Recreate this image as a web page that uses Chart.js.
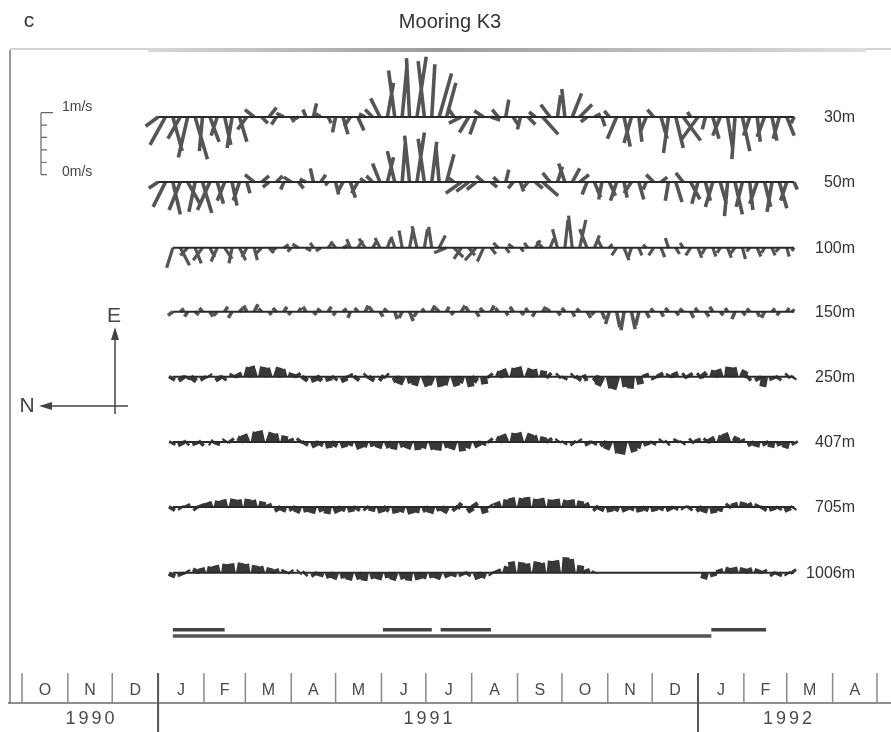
<!DOCTYPE html>
<html lang="en">
<head>
<meta charset="UTF-8">
<title>Mooring K3</title>
<script src="https://cdn.jsdelivr.net/npm/chart.js"></script>
<style>
    body { margin: 0; background: #fff; }
    #wrap { width: 891px; height: 732px; position: relative; }
</style>
</head>
<body>
<div id="wrap"><canvas id="sticks"></canvas></div>
<script>
// time in days since 1 Jan 1991, one current vector every 5 days
// east = up on the plot, north = to the left (m/s)
const stepDays = 5;
const depths = ['30m', '50m', '100m', '150m', '250m', '407m', '705m', '1006m'];
const firstDay = [0, 0, 10, 10, 10, 10, 10, 10];

const east30 = [
    -0.15,-0.45,-0.55,-0.35,-0.65,-0.68,-0.55,-0.40,-0.30,-0.45,
    -0.50,-0.40,-0.20,0.12,-0.10,0.15,-0.12,0.06,-0.08,-0.05,
    0.12,0.22,0.05,-0.10,-0.25,-0.28,-0.15,-0.22,0.05,0.12,
    0.30,0.55,0.75,0.85,0.95,0.97,0.90,0.85,0.70,0.55,
    0.15,-0.10,-0.25,-0.28,0.10,-0.05,0.12,0.28,-0.15,-0.20,
    -0.12,0.08,-0.28,0.20,0.35,0.45,0.38,0.20,-0.08,0.05,
    -0.15,0.10,-0.35,-0.48,-0.42,-0.40,-0.25,0.12,-0.35,-0.58,
    -0.50,-0.38,0.08,-0.38,-0.20,-0.35,-0.30,-0.50,-0.68,-0.55,
    -0.30,-0.40,-0.32,-0.38,-0.35,-0.30,-0.10];
const north30 = [
    0.20,0.25,-0.15,0.20,0.15,-0.20,0.05,-0.15,0.10,-0.10,
    0.08,-0.12,0.15,0.15,-0.10,-0.12,0.08,0.12,-0.05,0.10,
    0.05,-0.05,0.08,-0.05,0.05,-0.08,0.10,-0.10,0.10,0.12,
    0.15,-0.10,0.10,-0.08,0.05,-0.15,0.10,-0.05,-0.20,-0.15,
    0.10,0.20,0.15,0.10,0.15,-0.15,0.10,-0.05,-0.10,0.05,
    -0.12,0.10,-0.25,0.15,-0.05,0.05,-0.15,-0.20,0.10,-0.10,
    -0.05,0.08,0.15,-0.10,0.12,-0.05,0.10,0.10,-0.10,0.08,
    -0.12,-0.28,0.05,0.28,0.05,-0.10,0.12,-0.08,0.05,-0.12,
    0.10,-0.05,0.12,-0.08,0.10,-0.12,0.05];

const east50 = [
    -0.10,-0.40,-0.52,-0.45,-0.35,-0.48,-0.50,-0.45,-0.35,-0.30,
    -0.38,-0.30,-0.18,0.12,0.10,-0.08,0.10,-0.12,0.08,-0.10,
    0.05,0.22,0.12,-0.05,-0.20,-0.15,-0.25,-0.18,0.06,0.10,
    0.30,0.40,0.50,0.62,0.75,0.80,0.70,0.65,0.55,0.45,
    0.08,-0.18,-0.15,-0.12,0.10,-0.08,0.08,0.20,-0.10,-0.15,
    -0.12,-0.10,-0.22,0.15,0.25,0.30,0.22,0.12,-0.20,-0.25,
    -0.28,-0.22,-0.30,-0.25,-0.18,-0.28,-0.12,0.12,0.08,-0.30,
    -0.32,0.15,-0.28,-0.35,-0.30,-0.40,-0.35,-0.55,-0.52,-0.40,
    -0.45,-0.35,-0.40,-0.48,-0.42,-0.30,-0.12];
const north50 = [
    0.15,0.20,-0.12,0.18,-0.20,0.10,-0.15,0.20,-0.10,0.12,
    -0.08,0.10,-0.05,0.15,-0.12,0.10,-0.10,0.05,0.12,-0.08,
    0.10,0.05,-0.08,0.05,-0.05,0.08,-0.08,0.10,0.08,0.10,
    0.12,-0.10,0.12,-0.05,0.08,-0.12,0.10,-0.08,0.05,-0.12,
    0.10,0.25,0.20,0.15,0.12,-0.10,0.08,-0.05,0.08,-0.05,
    0.10,-0.12,-0.25,0.12,-0.08,0.10,-0.12,-0.15,0.08,-0.10,
    0.05,-0.10,0.10,-0.05,0.12,-0.08,0.05,0.12,-0.10,0.05,
    -0.10,0.12,-0.15,0.10,-0.08,0.12,-0.10,0.05,-0.12,0.10,
    -0.05,0.12,-0.10,0.08,-0.12,0.10,-0.05];

const east100 = [
    -0.32,-0.28,-0.12,-0.25,-0.20,-0.15,-0.22,-0.18,-0.25,-0.20,
    -0.15,-0.20,-0.10,-0.08,-0.06,0.05,-0.06,0.06,-0.05,0.08,
    -0.05,0.08,0.10,0.06,0.14,0.12,0.15,0.10,0.16,0.14,
    0.18,0.28,0.32,0.35,0.30,0.34,0.20,-0.08,-0.15,-0.18,
    -0.12,-0.20,-0.22,-0.10,0.08,-0.08,0.06,-0.06,0.08,0.12,
    0.10,0.15,0.30,0.45,0.52,0.45,0.30,0.20,0.12,0.06,
    -0.12,-0.20,-0.18,-0.12,0.05,-0.12,-0.15,0.16,-0.10,0.08,
    -0.12,-0.16,-0.10,-0.14,-0.08,-0.16,-0.10,-0.18,-0.06,-0.14,
    -0.08,-0.12,-0.06,-0.14,-0.05];
const north100 = [
    0.10,-0.15,0.12,-0.10,0.15,-0.08,0.10,-0.12,0.05,-0.10,
    0.08,-0.05,0.10,-0.08,0.10,-0.08,0.06,0.10,-0.08,0.05,
    0.08,-0.06,0.08,-0.10,0.06,-0.08,0.10,-0.06,0.08,-0.05,
    0.06,0.05,-0.06,0.08,-0.05,0.05,-0.10,0.20,-0.15,0.12,
    -0.10,0.18,0.10,-0.08,0.08,-0.06,0.08,-0.05,0.06,-0.08,
    0.10,-0.06,0.08,-0.05,0.06,-0.10,0.12,-0.08,0.06,-0.05,
    0.08,-0.08,0.06,-0.05,0.05,0.08,-0.06,0.05,-0.06,0.05,
    0.08,-0.06,0.06,-0.05,0.05,-0.06,0.08,-0.05,0.05,-0.06,
    0.05,-0.05,0.06,-0.04,0.04];

const east150 = [
    -0.06,0.05,-0.08,-0.05,0.06,-0.08,-0.06,0.08,-0.10,0.06,
    0.10,0.12,0.05,-0.05,0.06,0.08,-0.05,0.06,0.08,-0.05,
    0.05,0.08,-0.06,0.05,-0.10,0.06,0.10,0.08,-0.08,0.05,
    -0.12,-0.10,-0.15,-0.08,0.05,0.10,0.06,0.08,-0.05,0.10,
    0.08,-0.08,0.06,0.10,0.06,-0.06,0.08,-0.05,0.06,-0.08,
    0.08,0.05,-0.06,0.06,-0.08,0.05,-0.10,-0.05,-0.12,-0.20,
    -0.25,-0.30,-0.28,-0.22,-0.10,0.05,-0.08,0.06,-0.06,0.05,
    -0.10,0.06,-0.08,0.08,-0.06,0.06,-0.12,-0.06,0.05,-0.08,
    -0.10,0.05,-0.06,0.06,0.04];
const north150 = [
    0.08,-0.06,0.05,-0.06,0.05,-0.05,0.06,-0.05,0.06,-0.06,
    0.05,-0.06,0.05,-0.04,0.06,-0.05,0.05,-0.04,0.05,-0.05,
    0.06,-0.05,0.04,-0.06,0.04,0.05,-0.05,0.06,-0.05,0.06,
    -0.04,0.05,-0.06,0.05,0.04,-0.05,0.06,-0.04,0.05,-0.06,
    0.05,-0.05,0.06,-0.05,0.05,-0.04,0.05,-0.06,0.04,0.05,
    -0.05,0.06,-0.05,0.05,-0.04,0.05,-0.06,0.05,-0.05,0.06,
    -0.05,0.05,-0.06,0.05,-0.05,0.05,-0.04,0.05,-0.05,0.06,
    -0.05,0.05,-0.06,0.05,-0.05,0.04,0.05,-0.05,0.05,-0.04,
    0.05,-0.05,0.04,-0.04,0.03];

const east250 = [
    -0.05,-0.06,-0.03,-0.07,-0.05,0.03,-0.06,-0.04,0.04,0.06,
    0.15,0.17,0.16,0.14,0.15,0.12,0.06,0.05,-0.06,-0.08,
    -0.05,-0.07,-0.04,-0.08,0.04,-0.05,0.03,-0.06,-0.04,0.03,
    -0.08,-0.12,-0.10,-0.14,-0.15,-0.12,-0.16,-0.13,-0.15,-0.10,
    -0.16,-0.08,-0.12,0.04,0.08,0.12,0.14,0.16,0.13,0.12,
    0.10,0.04,0.03,-0.04,0.03,-0.05,-0.03,-0.06,-0.14,-0.18,
    -0.20,-0.16,-0.19,-0.12,0.05,-0.04,0.06,0.04,0.07,0.03,
    0.05,0.03,0.06,0.10,0.12,0.16,0.15,0.10,-0.04,-0.06,
    -0.16,-0.05,-0.04,0.03,-0.03];
const north250 = [
    0.03,-0.04,0.02,0.05,-0.03,0.02,-0.04,0.03,-0.02,0.03,
    -0.04,0.05,-0.03,0.04,-0.05,0.03,-0.02,0.03,0.04,-0.03,
    0.05,-0.02,0.03,-0.04,0.02,0.04,-0.03,0.04,-0.05,0.03,
    -0.04,0.05,-0.03,0.04,-0.06,0.05,-0.03,0.04,-0.05,0.03,
    -0.04,0.05,-0.02,0.03,-0.04,0.05,-0.03,0.04,-0.05,0.03,
    -0.02,0.04,-0.03,0.02,-0.03,0.04,0.06,-0.05,0.07,-0.04,
    0.06,-0.03,0.02,-0.03,0.02,-0.02,0.03,-0.02,0.03,-0.04,
    0.03,-0.04,0.05,-0.03,0.04,-0.02,0.03,-0.05,0.04,-0.03,
    0.03,-0.02,0.03,-0.03,0.02];

const east407 = [
    -0.04,-0.06,-0.03,-0.05,-0.04,-0.02,-0.05,0.03,0.04,0.08,
    0.12,0.16,0.18,0.15,0.13,0.10,0.05,0.04,-0.05,-0.08,
    -0.06,-0.10,-0.07,-0.09,-0.06,-0.11,-0.08,-0.07,-0.10,-0.09,
    -0.12,-0.08,-0.11,-0.13,-0.10,-0.12,-0.14,-0.09,-0.12,-0.15,
    -0.10,-0.08,-0.05,0.04,0.08,0.12,0.14,0.15,0.13,0.10,
    0.08,0.05,0.03,-0.03,-0.04,0.03,-0.05,-0.04,-0.06,-0.12,
    -0.18,-0.20,-0.16,-0.10,-0.06,-0.04,0.03,-0.03,0.04,-0.03,
    0.03,0.05,0.04,0.07,0.10,0.14,0.08,0.04,-0.06,-0.08,
    -0.05,-0.09,-0.06,-0.10,-0.04];
const north407 = [
    0.02,-0.03,0.03,-0.02,0.04,-0.03,0.02,-0.02,0.03,-0.04,
    0.05,-0.03,0.04,-0.05,0.03,-0.02,0.02,-0.03,0.03,-0.04,
    0.03,-0.02,0.04,-0.03,0.02,-0.04,0.03,-0.02,0.03,-0.04,
    0.02,-0.03,0.04,-0.02,0.03,-0.04,0.02,-0.03,0.04,-0.02,
    0.03,-0.04,0.02,0.03,-0.04,0.05,-0.03,0.04,-0.05,0.03,
    -0.02,0.03,-0.02,0.02,-0.03,0.02,-0.03,0.02,-0.04,0.05,
    -0.03,0.04,-0.05,0.03,-0.02,0.02,-0.02,0.03,-0.02,0.02,
    -0.03,0.02,-0.03,0.04,-0.03,0.05,-0.04,0.02,-0.03,0.02,
    -0.03,0.02,-0.02,0.03,-0.02];

const east705 = [
    -0.05,-0.03,0.04,-0.04,0.05,0.08,0.10,0.12,0.13,0.12,
    0.13,0.11,0.09,0.05,-0.06,-0.07,-0.05,-0.09,-0.08,-0.10,
    -0.07,-0.11,-0.09,-0.06,-0.08,-0.05,-0.04,-0.07,-0.09,-0.06,
    -0.10,-0.08,-0.11,-0.09,-0.07,-0.10,-0.06,-0.09,-0.05,0.04,
    -0.08,0.06,-0.10,0.03,0.08,0.12,0.15,0.14,0.16,0.13,
    0.14,0.12,0.13,0.11,0.12,0.10,0.06,-0.04,-0.06,-0.08,
    -0.06,-0.07,-0.05,-0.08,-0.06,-0.07,-0.05,-0.06,-0.04,-0.03,
    -0.04,-0.06,-0.09,-0.10,-0.07,0.04,0.07,0.08,0.06,0.04,
    -0.05,-0.06,-0.04,-0.07,-0.03];
const north705 = [
    0.03,-0.02,0.02,-0.03,0.02,0.03,-0.02,0.03,-0.03,0.02,
    -0.02,0.03,-0.02,0.02,-0.04,0.03,-0.03,0.04,-0.02,0.03,
    -0.03,0.02,-0.04,0.03,-0.02,0.03,-0.03,0.02,-0.03,0.04,
    -0.02,0.03,-0.03,0.02,-0.04,0.03,-0.02,0.05,-0.04,0.06,
    -0.05,0.04,-0.03,0.02,0.03,-0.02,0.03,-0.03,0.02,-0.02,
    0.03,-0.02,0.02,-0.03,0.02,-0.02,0.03,-0.04,0.03,-0.02,
    0.03,-0.03,0.02,-0.02,0.03,-0.02,0.02,-0.03,0.02,-0.02,
    0.03,-0.04,0.03,-0.02,0.02,-0.03,0.02,-0.02,0.03,-0.02,
    0.03,-0.02,0.02,-0.03,0.02];

const east1006 = [
    -0.07,-0.05,0.03,0.06,0.08,0.10,0.12,0.14,0.15,0.16,
    0.14,0.12,0.10,0.08,0.06,0.04,0.03,0.02,-0.03,-0.05,
    -0.06,-0.08,-0.10,-0.09,-0.12,-0.10,-0.13,-0.09,-0.11,-0.08,
    -0.12,-0.10,-0.13,-0.11,-0.09,-0.08,-0.10,-0.07,-0.06,-0.05,
    -0.04,-0.10,-0.08,-0.03,0.05,0.10,0.18,0.17,0.15,0.18,
    0.16,0.19,0.20,0.25,0.22,0.12,0.06,0.02,0,0,
    0,0,0,0,0,0,0,0,0,0,
    0,0,-0.10,-0.06,0.06,0.08,0.09,0.08,0.07,0.06,
    0.04,-0.04,-0.05,-0.03,0.04];
const north1006 = [
    0.03,-0.02,0.02,-0.03,0.02,-0.02,0.03,-0.02,0.02,-0.03,
    0.02,-0.02,0.03,-0.02,0.02,-0.02,0.02,-0.02,0.03,-0.03,
    0.02,-0.03,0.04,-0.02,0.03,-0.04,0.02,-0.03,0.03,-0.02,
    0.04,-0.03,0.02,-0.03,0.03,-0.02,0.04,-0.03,0.02,-0.02,
    0.03,-0.04,0.03,-0.02,0.02,-0.03,0.03,-0.02,0.02,-0.03,
    0.02,-0.02,0.03,-0.02,0.03,-0.02,0.02,-0.01,0,0,
    0,0,0,0,0,0,0,0,0,0,
    0,0,0.03,-0.02,0.02,-0.03,0.02,-0.02,0.03,-0.02,
    0.02,-0.03,0.02,-0.02,0.03];

// record coverage bars (days since 1 Jan 1991)
const upperBarFrom = [10, 152, 191, 374];
const upperBarTo = [45, 185, 225, 411];
const lowerBarFrom = [10];
const lowerBarTo = [374];

// time axis
const monthStarts = [-92, -61, -31, 0, 31, 59, 90, 120, 151, 181, 212, 243, 273, 304, 334, 365, 396, 425, 456, 486];
const monthLetters = ['O', 'N', 'D', 'J', 'F', 'M', 'A', 'M', 'J', 'J', 'A', 'S', 'O', 'N', 'D', 'J', 'F', 'M', 'A'];
const yearLabels = ['1990', '1991', '1992'];
const yearStarts = [-92, 0, 365, 486];

const eastSeries = [east30, east50, east100, east150, east250, east407, east705, east1006];
const northSeries = [north30, north50, north100, north150, north250, north407, north705, north1006];

// ---- layout (y axis in m/s above the time axis) ----
const yTop = 10.53;
const rowBase = [9.45, 8.40, 7.34, 6.31, 5.26, 4.21, 3.16, 2.10];
const stickWidth = [3.6, 3.6, 3.2, 3.6, 7, 7, 7, 7];
const upperBarY = 1.18;
const lowerBarY = 1.08;
const scaleBarZero = 8.52;
const pad = {left: 22, right: 14, top: 50, bottom: 29};
// same pixel length for 1 m/s horizontally and vertically
const pxPerDay = (891 - pad.left - pad.right) / (monthStarts[monthStarts.length - 1] - monthStarts[0]);
const pxPerMs = (732 - pad.top - pad.bottom) / yTop;
const daysPerMs = pxPerMs / pxPerDay;

function stickPoints(east, north, start, base) {
    const pts = [];
    east.forEach((e, k) => {
        const t = start + k * stepDays;
        pts.push({x: t, y: base}, {x: t - north[k] * daysPerMs, y: base + e}, {x: t, y: null});
    });
    return pts;
}

function barPoints(from, to, level) {
    const pts = [];
    from.forEach((f, k) => pts.push({x: f, y: level}, {x: to[k], y: level}, {x: to[k], y: null}));
    return pts;
}

const datasets = [];
depths.forEach((d, i) => {
    const last = firstDay[i] + (eastSeries[i].length - 1) * stepDays;
    datasets.push({
        label: d + ' axis',
        data: [{x: firstDay[i], y: rowBase[i]}, {x: last, y: rowBase[i]}],
        borderColor: '#2a2a2a', borderWidth: 2
    });
    datasets.push({
        label: d,
        data: stickPoints(eastSeries[i], northSeries[i], firstDay[i], rowBase[i]),
        borderColor: i < 4 ? 'rgba(20,20,20,0.72)' : 'rgba(45,45,45,0.95)',
        borderWidth: stickWidth[i],
        borderCapStyle: 'butt'
    });
});
datasets.push({label: 'upper bars', data: barPoints(upperBarFrom, upperBarTo, upperBarY), borderColor: '#444', borderWidth: 3.5});
datasets.push({label: 'lower bars', data: barPoints(lowerBarFrom, lowerBarTo, lowerBarY), borderColor: '#555', borderWidth: 3.5});

const figurePlugin = {
    id: 'figure',
    beforeDatasetsDraw(chart) {
        const {ctx, scales: {x, y}} = chart;
        const axisY = y.getPixelForValue(0);
        ctx.save();
        // frame
        ctx.strokeStyle = '#9a9a9a';
        ctx.lineWidth = 2;
        ctx.beginPath(); ctx.moveTo(10, pad.top); ctx.lineTo(10, axisY); ctx.stroke();
        ctx.strokeStyle = '#c4c4c4';
        ctx.lineWidth = 1.5;
        ctx.beginPath(); ctx.moveTo(10, pad.top - 1); ctx.lineTo(891, pad.top - 1); ctx.stroke();
        const g = ctx.createLinearGradient(148, 0, 866, 0);
        g.addColorStop(0, '#d8d8d8'); g.addColorStop(0.4, '#9c9c9c'); g.addColorStop(1, '#dedede');
        ctx.strokeStyle = g;
        ctx.lineWidth = 4;
        ctx.beginPath(); ctx.moveTo(148, pad.top); ctx.lineTo(866, pad.top); ctx.stroke();
        // time axis
        ctx.strokeStyle = '#6a6a6a';
        ctx.lineWidth = 1.5;
        ctx.beginPath(); ctx.moveTo(8, axisY); ctx.lineTo(891, axisY); ctx.stroke();
        monthStarts.forEach(m => {
            const px = x.getPixelForValue(m);
            const isYear = yearStarts.indexOf(m) > 0 && m < monthStarts[monthStarts.length - 1];
            ctx.strokeStyle = isYear ? '#555' : '#8a8a8a';
            ctx.lineWidth = isYear ? 2 : 1.5;
            ctx.beginPath();
            ctx.moveTo(px, axisY - 30);
            ctx.lineTo(px, isYear ? 732 : axisY);
            ctx.stroke();
        });
        ctx.restore();
    },
    afterDatasetsDraw(chart) {
        const {ctx, scales: {x, y}} = chart;
        const axisY = y.getPixelForValue(0);
        ctx.save();
        ctx.textAlign = 'center';
        ctx.textBaseline = 'middle';
        // month letters
        ctx.fillStyle = '#4a4a4a';
        ctx.font = '16px "Liberation Sans", Arial, sans-serif';
        monthLetters.forEach((l, i) => {
            const mid = (monthStarts[i] + monthStarts[i + 1]) / 2;
            ctx.fillText(l, x.getPixelForValue(mid), axisY - 12);
        });
        // years
        ctx.font = '18px "Liberation Sans", Arial, sans-serif';
        ctx.letterSpacing = '3px';
        yearLabels.forEach((l, i) => {
            const mid = (yearStarts[i] + yearStarts[i + 1]) / 2;
            ctx.fillText(l, x.getPixelForValue(mid) + 1.5, axisY + 16);
        });
        ctx.letterSpacing = '0px';
        // title and panel letter
        ctx.fillStyle = '#333';
        ctx.font = '20px "Liberation Sans", Arial, sans-serif';
        ctx.fillText('Mooring K3', 450, 22);
        ctx.font = '21px "Liberation Sans", Arial, sans-serif';
        ctx.fillText('c', 29, 21);
        // depth labels
        ctx.textAlign = 'right';
        ctx.font = '16px "Liberation Sans", Arial, sans-serif';
        ctx.fillStyle = '#333';
        depths.forEach((d, i) => ctx.fillText(d, 855, y.getPixelForValue(rowBase[i]) + 1));
        // speed scale bar
        const y0 = y.getPixelForValue(scaleBarZero);
        const y1 = y.getPixelForValue(scaleBarZero + 1);
        ctx.strokeStyle = '#666';
        ctx.lineWidth = 1.2;
        ctx.beginPath();
        ctx.moveTo(41, y1); ctx.lineTo(41, y0);
        ctx.moveTo(41, y1); ctx.lineTo(53, y1);
        for (let k = 1; k <= 5; k++) {
            const yy = y.getPixelForValue(scaleBarZero + 1 - k * 0.2);
            ctx.moveTo(41, yy); ctx.lineTo(47, yy);
        }
        ctx.stroke();
        ctx.textAlign = 'left';
        ctx.fillStyle = '#444';
        ctx.font = '14px "Liberation Sans", Arial, sans-serif';
        ctx.fillText('1m/s', 62, y1 - 5);
        ctx.fillText('0m/s', 62, y0 - 3);
        // compass
        ctx.strokeStyle = '#444';
        ctx.fillStyle = '#444';
        ctx.lineWidth = 1.5;
        ctx.beginPath();
        ctx.moveTo(115, 414); ctx.lineTo(115, 334);
        ctx.moveTo(128, 406); ctx.lineTo(46, 406);
        ctx.stroke();
        ctx.beginPath();
        ctx.moveTo(115, 327); ctx.lineTo(111, 340); ctx.lineTo(119, 340); ctx.closePath();
        ctx.moveTo(39, 406); ctx.lineTo(52, 402); ctx.lineTo(52, 410); ctx.closePath();
        ctx.fill();
        ctx.font = '21px "Liberation Sans", Arial, sans-serif';
        ctx.textAlign = 'center';
        ctx.fillText('E', 114, 316);
        ctx.fillText('N', 27, 406);
        ctx.restore();
    }
};

new Chart(document.getElementById('sticks'), {
    type: 'line',
    data: {datasets: datasets},
    options: {
        responsive: true,
        maintainAspectRatio: false,
        animation: false,
        spanGaps: false,
        layout: {padding: pad},
        elements: {point: {radius: 0}, line: {tension: 0}},
        plugins: {legend: {display: false}, tooltip: {enabled: false}},
        scales: {
            x: {type: 'linear', display: false, min: monthStarts[0], max: monthStarts[monthStarts.length - 1]},
            y: {type: 'linear', display: false, min: 0, max: yTop}
        }
    },
    plugins: [figurePlugin]
});
</script>
</body>
</html>
